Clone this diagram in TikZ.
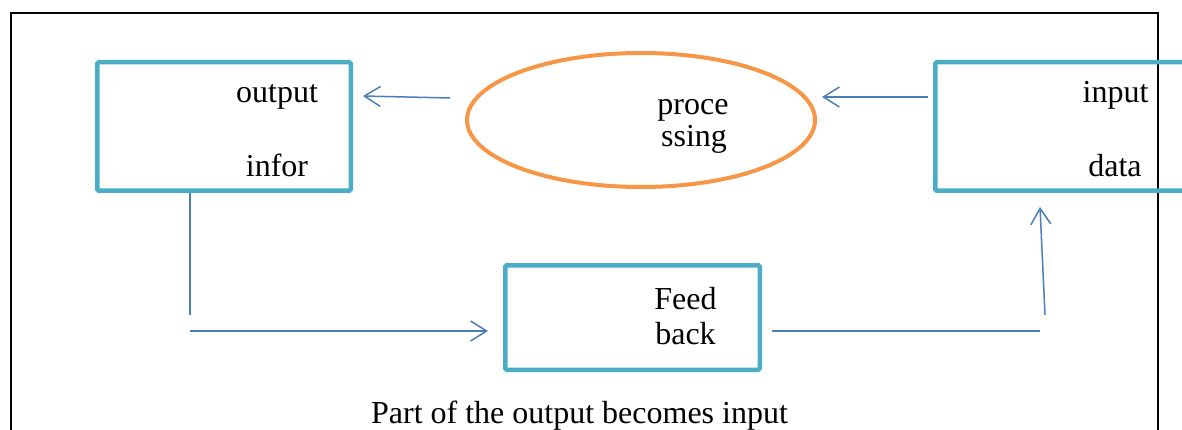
\documentclass[tikz,border=0pt]{standalone}
\usepackage{fontspec}
\setmainfont{Liberation Serif}
\usepackage{tikz}
\usetikzlibrary{arrows.meta,shapes.geometric}
\definecolor{boxc}{HTML}{4BACC6}
\definecolor{ovalc}{HTML}{F79646}
\definecolor{linec}{HTML}{4A7EBB}

\begin{document}
\begin{tikzpicture}[x=1pt,y=-1pt,font=\fontsize{32}{37}\selectfont,
  blk/.style={draw=boxc,line width=4.5pt,rounded corners=1.5pt,minimum width=253.5pt,minimum height=128.5pt,inner sep=0pt,outer sep=0pt},
  oval/.style={ellipse,draw=ovalc,line width=4pt,minimum width=348pt,minimum height=134pt,inner sep=0pt,outer sep=0pt},
  word/.style={anchor=base,inner sep=0pt},
  ln/.style={draw=linec,line width=1.5pt},
  arr/.style={ln,-{Straight Barb[length=16pt,width=20pt]}}]
\useasboundingbox (0,0) rectangle (1182,430);
\draw[line width=2pt] (11,13) rectangle (1158,460);
\node[blk] (out) at (224,126.5) {};
\node[blk] (inp) at (1062,126.5) {};
\node[blk,minimum width=254.5pt,minimum height=104.5pt] (fb) at (632.5,317.5) {};
\node[oval] (proc) at (641,120) {};
\node[word] (o1) at (277,103) {output};
\node[word] (o2) at (277,177) {infor};
\node[word] (p1) at (693,115) {proce};
\node[word] (p2) at (694,147) {ssing};
\node[word] (i1) at (1115.5,103) {input};
\node[word] (i2) at (1115,177) {data};
\node[word] (f1) at (685.5,309) {Feed};
\node[word] (f2) at (685.5,344) {back};
\node[word] (cap) at (579.5,423) {Part of the output becomes input};
\coordinate (k1) at ([shift={(-34,124.25)}]out.south);
\coordinate (k2) at ([shift={(-34,140.25)}]out.south);
\coordinate (k3) at ([shift={(-22,140.25)}]inp.south);
\coordinate (k4) at ([shift={(-17,124.25)}]inp.south);
\draw[arr] ([shift={(-17,-22)}]proc.west) -- ([shift={(12.25,-30.5)}]out.east);
\draw[arr] ([shift={(-7.25,-29.5)}]inp.west) -- ([shift={(7,-23)}]proc.east);
\draw[ln] ([shift={(-34,2.25)}]out.south) -- (k1);
\draw[arr] (k2) -- ([shift={(-17.25,13.5)}]fb.west);
\draw[ln] ([shift={(12.25,13.5)}]fb.east) -- (k3);
\draw[arr] (k4) -- ([shift={(-22,16.25)}]inp.south);
\end{tikzpicture}
\end{document}
